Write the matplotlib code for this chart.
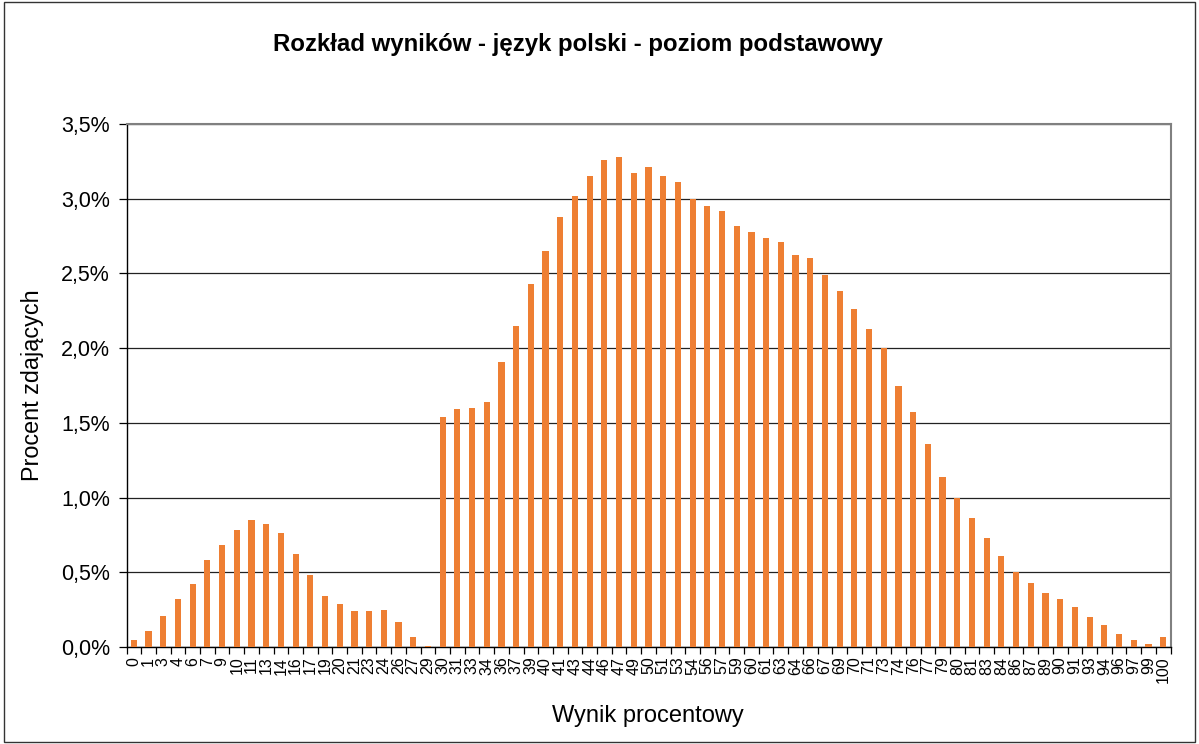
import numpy as np
import matplotlib
matplotlib.use("Agg")
import matplotlib.pyplot as plt
from matplotlib.patches import Rectangle
from matplotlib.ticker import FixedLocator, FuncFormatter

plt.rcParams['font.family'] = ['Liberation Sans', 'DejaVu Sans']

# score labels (percent) and share of candidates (%)
scores = [0, 1, 3, 4, 6, 7, 9, 10, 11, 13, 14, 16, 17, 19, 20, 21, 23, 24, 26, 27,
          29, 30, 31, 33, 34, 36, 37, 39, 40, 41, 43, 44, 46, 47, 49, 50, 51, 53, 54,
          56, 57, 59, 60, 61, 63, 64, 66, 67, 69, 70, 71, 73, 74, 76, 77, 79, 80, 81,
          83, 84, 86, 87, 89, 90, 91, 93, 94, 96, 97, 99, 100]
shares = [0.05, 0.11, 0.21, 0.32, 0.42, 0.58, 0.68, 0.78, 0.85, 0.82, 0.76, 0.62, 0.48,
          0.34, 0.29, 0.24, 0.24, 0.25, 0.17, 0.07, 0.01, 1.54, 1.59, 1.60, 1.64, 1.91,
          2.15, 2.43, 2.65, 2.88, 3.02, 3.15, 3.26, 3.28, 3.17, 3.21, 3.15, 3.11, 3.00,
          2.95, 2.92, 2.82, 2.78, 2.74, 2.71, 2.62, 2.60, 2.49, 2.38, 2.26, 2.13, 2.00,
          1.75, 1.57, 1.36, 1.14, 1.00, 0.86, 0.73, 0.61, 0.50, 0.43, 0.36, 0.32, 0.27,
          0.20, 0.15, 0.09, 0.05, 0.02, 0.07]
yticks = [0, 0.5, 1.0, 1.5, 2.0, 2.5, 3.0, 3.5]

fig = plt.figure(figsize=(11.99, 7.44), dpi=100)
ax = fig.add_axes([126.5 / 1199, 1 - 647 / 744, (1170.5 - 126.5) / 1199, (647 - 124) / 744])

x = np.arange(len(scores))
ax.bar(x, shares, width=0.42, color='#EE7F33', zorder=3)

ax.set_xlim(-0.5, len(scores) - 0.5)
ax.set_ylim(0, 3.5)
ax.set_yticks(yticks)
ax.yaxis.set_major_formatter(FuncFormatter(lambda v, p: f"{v:.1f}%".replace('.', ',')))
ax.grid(axis='y', color='#222222', linewidth=0.9, zorder=0)

ax.set_xticks(x)
ax.set_xticklabels([str(s) for s in scores], rotation=90, fontsize=11.5)
ax.xaxis.set_minor_locator(FixedLocator(np.arange(-0.5, len(scores), 1)))
ax.tick_params(axis='x', which='major', length=0, pad=7)
ax.tick_params(axis='x', which='minor', length=5, width=0.9, direction='out')
ax.tick_params(axis='y', length=6, width=0.9, labelsize=15.5, direction='out', pad=6)

for s in ['left', 'bottom']:
    ax.spines[s].set_color('black')
    ax.spines[s].set_linewidth(1.0)
for s in ['top', 'right']:
    ax.spines[s].set_color('#808080')
    ax.spines[s].set_linewidth(1.5)

fig.text(33 / 1199, 1 - 385 / 744, 'Procent zdających', fontsize=16.8, rotation=90,
         ha='center', va='center')
fig.text(648 / 1199, 1 - 716 / 744, 'Wynik procentowy', fontsize=17, ha='center', va='center')
fig.text(578 / 1199, 1 - 45 / 744, 'Rozkład wyników - język polski - poziom podstawowy',
         fontsize=17.3, fontweight='bold', ha='center', va='center')

fig.patches.append(Rectangle((0.003, 0.003), 0.994, 0.994, transform=fig.transFigure,
                             fill=False, edgecolor='#333333', linewidth=1.0))

fig.savefig('out.png', dpi=100)
